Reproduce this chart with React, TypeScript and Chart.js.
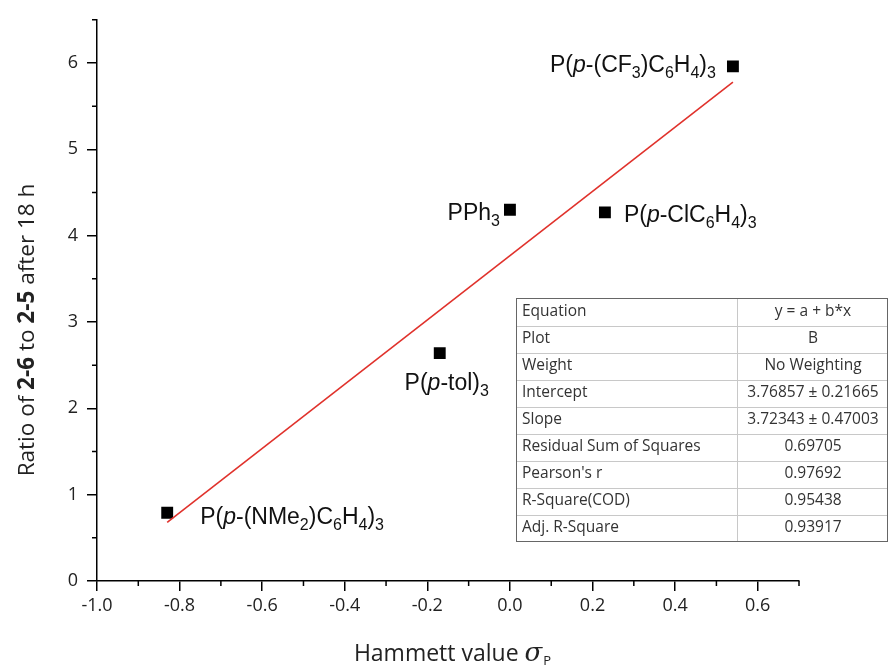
import React, { useEffect, useRef } from "react";
import { Chart, registerables } from "chart.js";

Chart.register(...registerables);

const pointNames = ["NMe2", "tol", "PPh3", "Cl", "CF3"];
const hammettX = [-0.83, -0.17, 0.0, 0.23, 0.54];
const ratioY = [0.79, 2.64, 4.3, 4.27, 5.96];
const fitX = [-0.83, 0.54];
const fitY = [0.678, 5.779];

const xMajorTicks = [-1.0, -0.8, -0.6, -0.4, -0.2, 0.0, 0.2, 0.4, 0.6];
const xMinorTicks = [-0.9, -0.7, -0.5, -0.3, -0.1, 0.1, 0.3, 0.5, 0.7];
const yMajorTicks = [0, 1, 2, 3, 4, 5, 6];
const yMinorTicks = [0.5, 1.5, 2.5, 3.5, 4.5, 5.5, 6.5];

const tableLabels = [
  "Equation",
  "Plot",
  "Weight",
  "Intercept",
  "Slope",
  "Residual Sum of Squares",
  "Pearson's r",
  "R-Square(COD)",
  "Adj. R-Square",
];
const tableValues = [
  "y = a + b*x",
  "B",
  "No Weighting",
  "3.76857 \u00b1 0.21665",
  "3.72343 \u00b1 0.47003",
  "0.69705",
  "0.97692",
  "0.95438",
  "0.93917",
];

type Seg = { t: string; s: "n" | "i" | "sub" };
const pointLabels: Seg[][] = [
  [
    { t: "P(", s: "n" },
    { t: "p", s: "i" },
    { t: "-(NMe", s: "n" },
    { t: "2", s: "sub" },
    { t: ")C", s: "n" },
    { t: "6", s: "sub" },
    { t: "H", s: "n" },
    { t: "4", s: "sub" },
    { t: ")", s: "n" },
    { t: "3", s: "sub" },
  ],
  [
    { t: "P(", s: "n" },
    { t: "p", s: "i" },
    { t: "-tol)", s: "n" },
    { t: "3", s: "sub" },
  ],
  [
    { t: "PPh", s: "n" },
    { t: "3", s: "sub" },
  ],
  [
    { t: "P(", s: "n" },
    { t: "p", s: "i" },
    { t: "-ClC", s: "n" },
    { t: "6", s: "sub" },
    { t: "H", s: "n" },
    { t: "4", s: "sub" },
    { t: ")", s: "n" },
    { t: "3", s: "sub" },
  ],
  [
    { t: "P(", s: "n" },
    { t: "p", s: "i" },
    { t: "-(CF", s: "n" },
    { t: "3", s: "sub" },
    { t: ")C", s: "n" },
    { t: "6", s: "sub" },
    { t: "H", s: "n" },
    { t: "4", s: "sub" },
    { t: ")", s: "n" },
    { t: "3", s: "sub" },
  ],
];
// label anchor: [dx, dy, align]
const labelAnchors: [number, number, string][] = [
  [33, 11, "left"],
  [7, 37, "center"],
  [-10, 10, "right"],
  [19, 10, "left"],
  [-17, 6, "right"],
];

const LBL_FONT = '23px "Liberation Sans", Arial, sans-serif';
const LBL_IFONT = 'italic 23px "Liberation Sans", Arial, sans-serif';
const LBL_SUB = '16px "Liberation Sans", Arial, sans-serif';

function segFont(s: string) {
  return s === "i" ? LBL_IFONT : s === "sub" ? LBL_SUB : LBL_FONT;
}

const overlayPlugin = {
  id: "overlay",
  afterDraw(chart: any) {
    const ctx: CanvasRenderingContext2D = chart.ctx;
    const xs = chart.scales.x;
    const ys = chart.scales.y;
    const area = chart.chartArea;
    ctx.save();
    // minor ticks
    ctx.strokeStyle = "#000";
    ctx.lineWidth = 1.5;
    ctx.beginPath();
    for (const v of xMinorTicks) {
      const px = xs.getPixelForValue(v);
      ctx.moveTo(px, area.bottom);
      ctx.lineTo(px, area.bottom + 5);
    }
    for (const v of yMinorTicks) {
      const py = ys.getPixelForValue(v);
      ctx.moveTo(area.left, py);
      ctx.lineTo(area.left - 5, py);
    }
    ctx.stroke();

    // point labels
    ctx.fillStyle = "#111";
    ctx.textBaseline = "alphabetic";
    ctx.textAlign = "left";
    const meta = chart.getDatasetMeta(1);
    pointLabels.forEach((segs, i) => {
      const el = meta.data[i];
      if (!el) return;
      const [dx, dy, align] = labelAnchors[i];
      let total = 0;
      for (const sg of segs) {
        ctx.font = segFont(sg.s);
        total += ctx.measureText(sg.t).width;
      }
      let x = el.x + dx;
      if (align === "right") x -= total;
      else if (align === "center") x -= total / 2;
      const base = el.y + dy;
      for (const sg of segs) {
        ctx.font = segFont(sg.s);
        ctx.fillText(sg.t, x, sg.s === "sub" ? base + 6 : base);
        x += ctx.measureText(sg.t).width;
      }
    });

    // y-axis title (mixed bold)
    const yt: { t: string; b: boolean }[] = [
      { t: "Ratio of ", b: false },
      { t: "2-6", b: true },
      { t: " to ", b: false },
      { t: "2-5", b: true },
      { t: " after 18 h", b: false },
    ];
    const yF = '22.5px "Open Sans", sans-serif';
    const yFB = 'bold 22.5px "Open Sans", sans-serif';
    let tw = 0;
    for (const s of yt) {
      ctx.font = s.b ? yFB : yF;
      tw += ctx.measureText(s.t).width;
    }
    ctx.save();
    ctx.translate(28, 330);
    ctx.rotate(-Math.PI / 2);
    ctx.fillStyle = "#222";
    ctx.textBaseline = "middle";
    let cx = -tw / 2;
    for (const s of yt) {
      ctx.font = s.b ? yFB : yF;
      ctx.fillText(s.t, cx, 0);
      cx += ctx.measureText(s.t).width;
    }
    ctx.restore();

    // x-axis title
    const xF = '23px "Open Sans", sans-serif';
    const sigF = 'italic 26px "DejaVu Serif", "Liberation Serif", serif';
    const pF = '13px "Open Sans", sans-serif';
    ctx.font = xF;
    const w1 = ctx.measureText("Hammett value ").width;
    ctx.font = sigF;
    const w2 = ctx.measureText("\u03c3").width;
    ctx.font = pF;
    const w3 = ctx.measureText("P").width;
    let xx = 452 - (w1 + w2 + w3) / 2;
    const xb = 661;
    ctx.fillStyle = "#222";
    ctx.font = xF;
    ctx.fillText("Hammett value ", xx, xb);
    xx += w1;
    ctx.font = sigF;
    ctx.fillText("\u03c3", xx, xb);
    xx += w2;
    ctx.font = pF;
    ctx.fillText("P", xx + 1, xb + 4);

    // table
    const tl = 516.5,
      tr = 887.5,
      tt = 298.5,
      tb = 541.5,
      tdiv = 737.5;
    const rh = (tb - tt) / tableLabels.length;
    ctx.fillStyle = "#fff";
    ctx.fillRect(tl, tt, tr - tl, tb - tt);
    ctx.strokeStyle = "#c8c8c8";
    ctx.lineWidth = 1;
    ctx.beginPath();
    for (let i = 1; i < tableLabels.length; i++) {
      const y = Math.round(tt + i * rh) + 0.5;
      ctx.moveTo(tl, y);
      ctx.lineTo(tr, y);
    }
    ctx.moveTo(tdiv, tt);
    ctx.lineTo(tdiv, tb);
    ctx.stroke();
    ctx.strokeStyle = "#666";
    ctx.strokeRect(tl, tt, tr - tl, tb - tt);
    ctx.fillStyle = "#333";
    ctx.font = '15.5px "Open Sans", sans-serif';
    ctx.textBaseline = "middle";
    tableLabels.forEach((lab, i) => {
      const y = tt + (i + 0.5) * rh;
      ctx.textAlign = "left";
      ctx.fillText(lab, 522, y);
      ctx.textAlign = "center";
      ctx.fillText(tableValues[i], 813, y);
    });
    ctx.restore();
  },
};

export default function App() {
  const ref = useRef<HTMLCanvasElement>(null);
  useEffect(() => {
    document.body.style.margin = "0";
    const canvas = ref.current;
    if (!canvas) return;
    const chart = new Chart(canvas, {
      type: "scatter",
      data: {
        datasets: [
          {
            type: "line",
            label: "Fit",
            data: fitX.map((x, i) => ({ x, y: fitY[i] })),
            borderColor: "#e0322c",
            borderWidth: 1.6,
            pointRadius: 0,
            fill: false,
          },
          {
            label: "Ratio",
            data: hammettX.map((x, i) => ({ x, y: ratioY[i] })),
            backgroundColor: "#000",
            borderColor: "#000",
            pointStyle: "rect",
            pointRadius: 8.4,
            borderWidth: 0,
          },
        ],
      },
      options: {
        responsive: false,
        animation: false,
        layout: { padding: { left: 0, top: 17, right: 90, bottom: 0 } },
        plugins: {
          legend: { display: false },
          tooltip: { enabled: false },
        },
        scales: {
          x: {
            type: "linear",
            min: -1.0,
            max: 0.7,
            afterFit: (s: any) => {
              s.height = 87;
            },
            afterBuildTicks: (s: any) => {
              s.ticks = xMajorTicks.map((v) => ({ value: v }));
            },
            ticks: {
              callback: (v: any) => Number(v).toFixed(1),
              color: "#222",
              font: { family: '"Open Sans", sans-serif', size: 18 },
              padding: 4,
              maxRotation: 0,
              autoSkip: false,
            },
            grid: {
              display: true,
              drawOnChartArea: false,
              drawTicks: true,
              tickLength: 10,
              color: "#000",
              lineWidth: 1.5,
            },
            border: { display: true, color: "#000", width: 1.5 },
          },
          y: {
            type: "linear",
            min: 0,
            max: 6.5,
            afterFit: (s: any) => {
              s.width = 97;
            },
            afterBuildTicks: (s: any) => {
              s.ticks = yMajorTicks.map((v) => ({ value: v }));
            },
            ticks: {
              callback: (v: any) => String(v),
              color: "#222",
              font: { family: '"Open Sans", sans-serif', size: 18 },
              padding: 9,
              autoSkip: false,
            },
            grid: {
              display: true,
              drawOnChartArea: false,
              drawTicks: true,
              tickLength: 10,
              color: "#000",
              lineWidth: 1.5,
            },
            border: { display: true, color: "#000", width: 1.5 },
          },
        },
      },
      plugins: [overlayPlugin],
    });
    return () => chart.destroy();
  }, []);
  return (
    <div style={{ position: "absolute", left: 0, top: 0, width: 889, height: 668, background: "#fff" }}>
      <canvas ref={ref} width={889} height={668} style={{ width: 889, height: 668 }} />
    </div>
  );
}
